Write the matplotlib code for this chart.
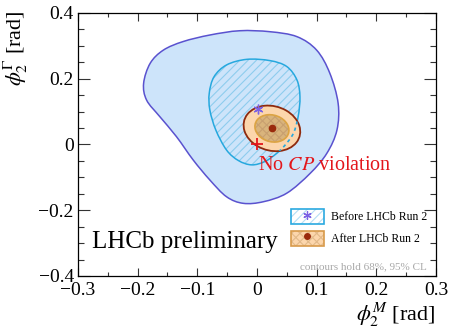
import numpy as np
import matplotlib
matplotlib.use("Agg")
import matplotlib.pyplot as plt
from matplotlib.path import Path
from matplotlib.patches import PathPatch, Ellipse, Patch
from matplotlib.lines import Line2D
from matplotlib.legend_handler import HandlerTuple

plt.rcParams['font.family'] = ['Liberation Serif', 'DejaVu Serif']
plt.rcParams['mathtext.fontset'] = 'stix'
plt.rcParams['hatch.linewidth'] = 0.8

# before LHCb Run 2 : 95% contour (outer) and 68% contour (inner)
before95_x = [-0.190, -0.179, -0.157, -0.124, -0.079, -0.029, 0.022, 0.067, 0.100, 0.122,
              0.136, 0.134, 0.117, 0.089, 0.050, 0.011, -0.023, -0.051, -0.079, -0.107,
              -0.135, -0.163, -0.185]
before95_y = [0.186, 0.247, 0.287, 0.313, 0.333, 0.346, 0.343, 0.328, 0.287, 0.217,
              0.125, 0.044, -0.027, -0.088, -0.148, -0.174, -0.179, -0.159, -0.108, -0.047,
              0.024, 0.085, 0.135]
before68_x = [-0.017, 0.022, 0.050, 0.067, 0.072, 0.069, 0.061, 0.047, 0.033, 0.013,
              -0.009, -0.031, -0.051, -0.069, -0.079, -0.080, -0.072, -0.051]
before68_y = [0.259, 0.255, 0.237, 0.196, 0.145, 0.085, 0.034, -0.002, -0.027, -0.052,
              -0.062, -0.049, -0.017, 0.044, 0.105, 0.156, 0.206, 0.242]
before_best = (0.002, 0.108)

# after LHCb Run 2 : ellipses (centre, semi-axes, angle)
after_best = (0.025, 0.049)
after95_axes = (0.0466, 0.0700)
after68_axes = (0.0280, 0.0420)
after_angle = 10.0

no_cp = (0.0, 0.0)


def smooth_closed(xs, ys):
    # closed curve through the points, catmull-rom turned into bezier pieces
    p = np.column_stack([xs, ys])
    prev = np.roll(p, 1, axis=0)
    nxt = np.roll(p, -1, axis=0)
    nxt2 = np.roll(p, -2, axis=0)
    c1 = p + (nxt - prev) / 6.0
    c2 = nxt - (nxt2 - p) / 6.0
    verts = [p[0]]
    codes = [Path.MOVETO]
    for i in range(len(p)):
        verts += [c1[i], c2[i], nxt[i]]
        codes += [Path.CURVE4] * 3
    verts.append(p[0])
    codes.append(Path.CLOSEPOLY)
    return Path(verts, codes)


fig = plt.figure(figsize=(4.5, 3.34), dpi=100)
ax = fig.add_axes([0.1733, 0.1737, 0.7956, 0.7874])

p95 = smooth_closed(before95_x, before95_y)
p68 = smooth_closed(before68_x, before68_y)

ax.add_patch(PathPatch(p95, facecolor='#cde4fa', edgecolor='#5a52cf', lw=1.1, zorder=1))
ax.add_patch(PathPatch(p68, facecolor='none', edgecolor='#8ecdee', lw=0, hatch='////', zorder=2))
ax.add_patch(PathPatch(p68, facecolor='none', edgecolor='#26a8de', lw=1.1, zorder=3))

e95 = Ellipse(after_best, 2 * after95_axes[0], 2 * after95_axes[1], angle=after_angle,
              facecolor='#fcd6ac', edgecolor='#8e2a0e', lw=1.3, zorder=4)
ax.add_patch(e95)
ax.add_patch(Ellipse(after_best, 2 * after68_axes[0], 2 * after68_axes[1], angle=after_angle,
                     facecolor='#d9b47c', edgecolor='#c8a070', lw=0, hatch='xxxx', zorder=5))
ax.add_patch(Ellipse(after_best, 2 * after68_axes[0], 2 * after68_axes[1], angle=after_angle,
                     facecolor='none', edgecolor='#dca443', lw=1.2, zorder=6))

# hidden part of the inner blue contour, dashed over the orange one
dash = PathPatch(p68, facecolor='none', edgecolor='#26a8de', lw=1.2, ls=(0, (2, 2)), zorder=7)
ax.add_patch(dash)
dash.set_clip_path(e95)

ax.plot(*after_best, 'o', color='#9a2a0c', ms=4.5, zorder=8)
ax.plot(*before_best, marker=(6, 2, 0), color='#7c62e4', ms=7, mew=1.0, ls='none', zorder=8)
ax.plot(*no_cp, '+', color='#e3161b', ms=9, mew=1.3, zorder=8)

ax.text(0.002, -0.078, 'No $CP$ violation', color='#e3161b', fontsize=14.5, zorder=9)
ax.text(0.039, 0.106, 'LHCb preliminary', transform=ax.transAxes, fontsize=18)
ax.text(0.975, 0.025, 'contours hold 68%, 95% CL', transform=ax.transAxes,
        ha='right', fontsize=8, color='#a8a8a8')

h_before = (Patch(facecolor='white', edgecolor='#b5def4', lw=0, hatch='////'),
            Patch(facecolor='none', edgecolor='#2aa9e0', lw=1.2),
            Line2D([], [], marker=(6, 2, 0), color='#7c62e4', ms=6, mew=0.9, ls='none'))
h_after = (Patch(facecolor='#fcd6ac', edgecolor='#e2b98a', lw=0, hatch='xxxx'),
           Patch(facecolor='none', edgecolor='#d89a4a', lw=1.2),
           Line2D([], [], marker='o', color='#9a2a0c', ms=4, ls='none'))
ax.legend([h_before, h_after], ['Before LHCb Run 2', 'After LHCb Run 2'],
          handler_map={tuple: HandlerTuple(ndivide=1, pad=0)},
          loc='upper left', bbox_to_anchor=(0.594, 0.255), frameon=False, fontsize=8.5,
          handlelength=2.8, handleheight=1.6, handletextpad=0.6, labelspacing=0.55,
          borderpad=0, borderaxespad=0)

ax.set_xlim(-0.3, 0.3)
ax.set_ylim(-0.4, 0.4)
ax.set_xticks(np.arange(-0.3, 0.31, 0.1))
ax.set_xticks(np.arange(-0.25, 0.3, 0.1), minor=True)
ax.set_yticks(np.arange(-0.4, 0.41, 0.2))
ax.set_yticks(np.arange(-0.35, 0.4, 0.05), minor=True)
ax.set_xticklabels(['−0.3', '−0.2', '−0.1', '0', '0.1', '0.2', '0.3'])
ax.set_yticklabels(['−0.4', '−0.2', '0', '0.2', '0.4'])
ax.tick_params(axis='both', which='both', direction='in', top=True, right=True,
               labelsize=14, color='#333333')
ax.tick_params(axis='x', which='major', length=5.5, width=0.8, pad=4)
ax.tick_params(axis='x', which='minor', length=2.8, width=0.8)
ax.tick_params(axis='y', which='major', length=8.5, width=0.8, pad=3)
ax.tick_params(axis='y', which='minor', length=4.5, width=0.8)
for s in ax.spines.values():
    s.set_linewidth(0.9)

ax.set_xlabel(r'$\phi_{2}^{M}$ [rad]', fontsize=16, loc='right')
ax.xaxis.set_label_coords(1.0, -0.095)
ax.set_ylabel(r'$\phi_{2}^{\Gamma}$ [rad]', fontsize=16, loc='top')
ax.yaxis.set_label_coords(-0.135, 1.01)

fig.savefig('out.png', dpi=100)
